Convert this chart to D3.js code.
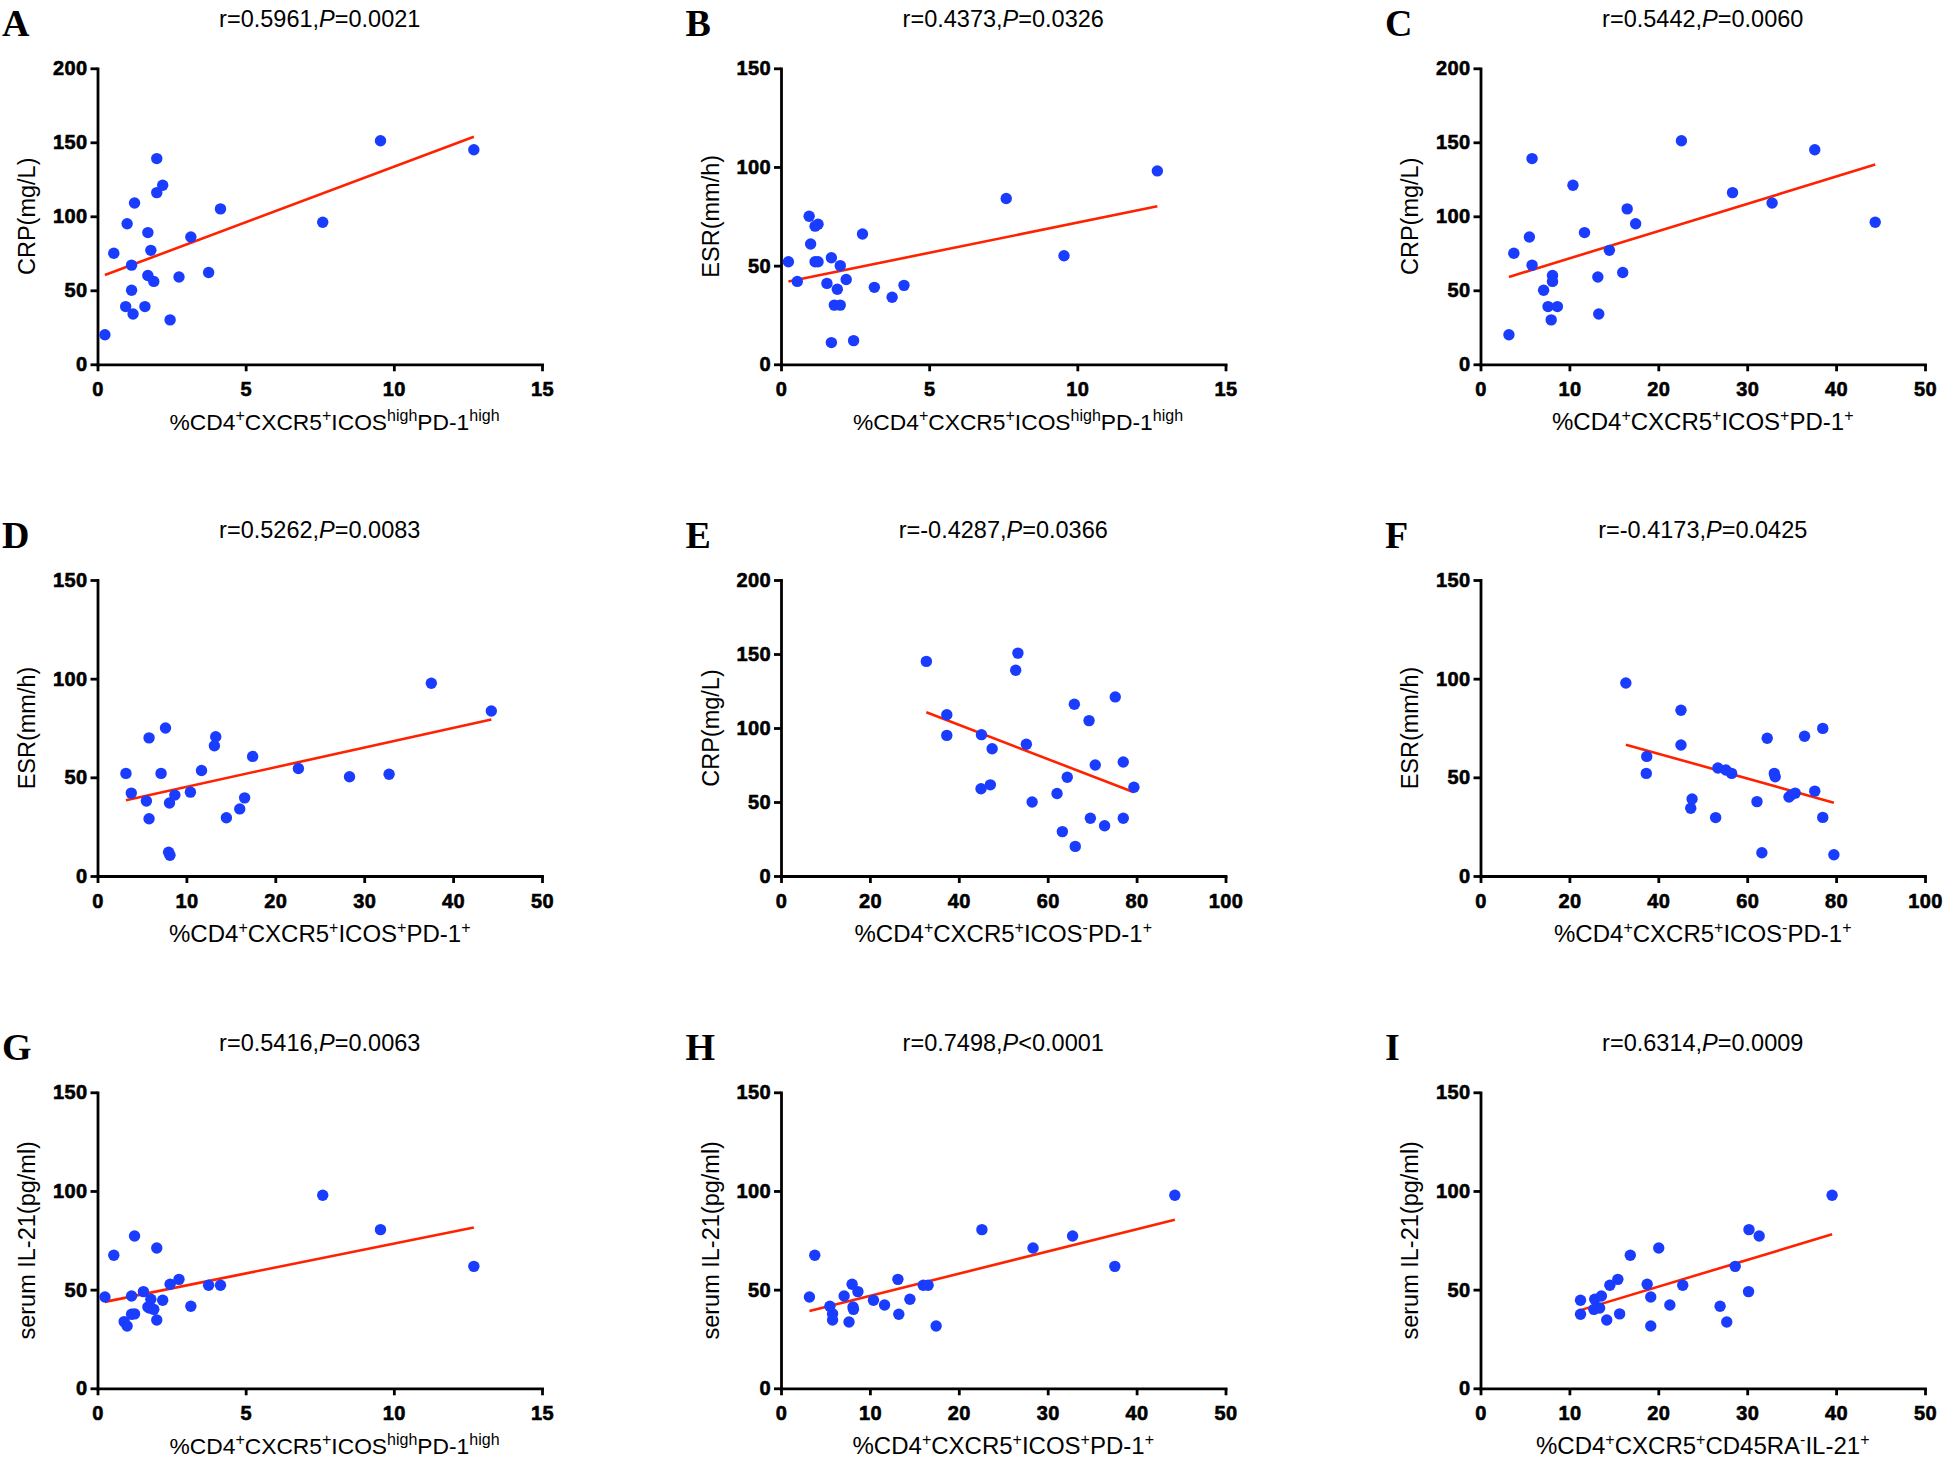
<!DOCTYPE html>
<html><head><meta charset="utf-8">
<script src="https://cdn.jsdelivr.net/npm/d3@7"></script>
<style>body{margin:0;background:#fff} svg{display:block}</style>
</head><body>
<svg id="chart" width="1946" height="1462"></svg>
<script>
// ---------- data ----------
const panelLetters = ["A","B","C","D","E","F","G","H","I"];
const rValues = ["0.5961","0.4373","0.5442","0.5262","-0.4287","-0.4173","0.5416","0.7498","0.6314"];
const pValues = ["=0.0021","=0.0326","=0.0060","=0.0083","=0.0366","=0.0425","=0.0063","<0.0001","=0.0009"];

const xTicks15 = [0,5,10,15];
const xTicks50 = [0,10,20,30,40,50];
const xTicks100 = [0,20,40,60,80,100];
const yTicks200 = [0,50,100,150,200];
const yTicks150 = [0,50,100,150];

const yLabelCRP = "CRP(mg/L)";
const yLabelESR = "ESR(mm/h)";
const yLabelIL21 = "serum IL-21(pg/ml)";

// x label segments: [text, superscript?]
const xLabelHigh = [["%CD4",0],["+",1],["CXCR5",0],["+",1],["ICOS",0],["high",1],["PD-1",0],["high",1]];
const xLabelPos = [["%CD4",0],["+",1],["CXCR5",0],["+",1],["ICOS",0],["+",1],["PD-1",0],["+",1]];
const xLabelNeg = [["%CD4",0],["+",1],["CXCR5",0],["+",1],["ICOS",0],["-",1],["PD-1",0],["+",1]];
const xLabelIL21 = [["%CD4",0],["+",1],["CXCR5",0],["+",1],["CD45RA",0],["-",1],["IL-21",0],["+",1]];

const xA = [0.25,0.55,1.0,0.95,1.15,1.15,1.2,1.25,1.6,1.7,1.7,1.8,1.9,2.0,2.0,2.2,2.45,2.75,3.15,3.75,4.15,7.6,9.55,12.7];
const yA = [20,75,95,39,67,50,34,109,39,89,60,77,56,116,139,121,30,59,86,62,105,96,151,145];
const fitA = [7.50, 58.45];

const xB = [0.25,0.55,0.95,1.0,1.15,1.25,1.15,1.25,1.55,1.7,1.7,1.8,2.0,1.9,2.0,2.2,2.45,2.75,3.15,3.75,4.15,7.6,9.55,12.7];
const yB = [52,42,75,61,70,71,52,52,41,54,11,30,30,38,50,43,12,66,39,34,40,84,55,98];
const fitB = [3.06, 41.2];

const xC = [3.2,3.75,5.5,5.8,5.8,7.1,7.6,7.95,8.1,8.1,8.65,10.4,11.7,13.2,13.3,14.5,16.0,16.5,17.45,22.6,28.35,32.8,37.6,44.4];
const yC = [20,75,86,139,67,50,39,30,60,56,39,121,89,59,34,77,62,105,95,151,116,109,145,96];
const fitC = [1.842, 53.15];

const xD = [3.2,3.8,5.5,5.8,5.8,7.15,7.65,8.1,8.7,8.0,8.15,10.45,11.7,13.15,13.3,14.5,16.0,16.55,17.45,22.6,28.35,32.8,37.55,44.3];
const yD = [52,42,38,70,29,52,75,37,41,12,10.5,42.5,53.5,66,70.6,29.5,34,39.6,60.6,54.5,50.3,51.6,97.7,83.6];
const fitD = [0.995, 35.2];

const xE = [32.7,37.3,37.3,45.1,45.0,47.1,47.5,52.8,53.3,55.2,56.5,62.1,63.3,64.4,66.0,66.2,69.3,69.6,70.7,72.8,75.2,77.0,77.0,79.4];
const yE = [145,109,95,95.5,59,61.6,86,139,150.6,89,50,55.7,30,66.7,116,20,105,39,75,34,121,77,39,60];
const fitE = [-1.158, 148.5];

const xF = [32.7,37.4,37.3,45.1,45.1,47.3,47.6,52.9,53.4,55.2,56.5,62.2,63.3,64.5,66.1,66.3,69.4,69.9,70.8,72.9,75.2,77.0,77.0,79.5];
const yF = [97.8,60.6,52,84,66.4,34.3,39,29.6,54.7,53.7,52,37.7,11.8,69.8,52,50.3,40,41,42,70.8,43,74.8,29.7,10.8];
const fitF = [-0.628, 87.1];

const xG = [0.25,0.55,0.9,1.0,1.15,1.15,1.25,1.25,1.55,1.7,1.75,1.8,1.9,2.0,2.0,2.2,2.45,2.75,3.15,3.75,4.15,7.6,9.55,12.7];
const yG = [46.3,67.4,33.8,31.6,46.8,37.5,37.7,77.2,49,41.2,40.7,45.1,40,71.1,34.6,44.6,52.7,55.2,41.6,52.2,52.2,97.8,80.4,61.8];
const fitG = [3.03, 43.05];

const xH = [3.2,3.8,5.5,5.8,5.8,7.1,7.65,8.0,8.1,8.15,8.65,10.4,11.65,13.15,13.25,14.5,16.0,16.55,17.45,22.6,28.35,32.8,37.55,44.3];
const yH = [46.3,67.4,41.6,37.8,34.6,46.8,33.6,52.7,41.2,40,49,44.6,42.2,55.2,37.5,45.1,52.2,52.2,31.6,80.4,71.1,77.2,61.8,97.8];
const fitH = [1.124, 35.6];

const xI = [11.25,11.25,12.75,12.85,13.4,13.6,14.2,14.55,15.45,15.65,16.85,18.75,19.15,19.15,20.05,21.3,22.75,26.95,27.7,28.65,30.15,30.2,31.35,39.55];
const yI = [44.6,37.5,40,45.1,40.7,46.8,34.6,52.2,55.2,37.7,67.4,52.7,46.3,31.6,71.1,42.2,52.2,41.6,33.6,61.8,49,80.4,77.2,97.8];
const fitI = [1.357, 24.35];

// ---------- panel table built from the arrays ----------
const panels = [
  {x:xA,y:yA,fit:fitA,xt:xTicks15,yt:yTicks200,yl:yLabelCRP,xl:xLabelHigh},
  {x:xB,y:yB,fit:fitB,xt:xTicks15,yt:yTicks150,yl:yLabelESR,xl:xLabelHigh},
  {x:xC,y:yC,fit:fitC,xt:xTicks50,yt:yTicks200,yl:yLabelCRP,xl:xLabelPos},
  {x:xD,y:yD,fit:fitD,xt:xTicks50,yt:yTicks150,yl:yLabelESR,xl:xLabelPos},
  {x:xE,y:yE,fit:fitE,xt:xTicks100,yt:yTicks200,yl:yLabelCRP,xl:xLabelNeg},
  {x:xF,y:yF,fit:fitF,xt:xTicks100,yt:yTicks150,yl:yLabelESR,xl:xLabelNeg},
  {x:xG,y:yG,fit:fitG,xt:xTicks15,yt:yTicks150,yl:yLabelIL21,xl:xLabelHigh},
  {x:xH,y:yH,fit:fitH,xt:xTicks50,yt:yTicks150,yl:yLabelIL21,xl:xLabelPos},
  {x:xI,y:yI,fit:fitI,xt:xTicks50,yt:yTicks150,yl:yLabelIL21,xl:xLabelIL21}
];

// ---------- layout ----------
const colLeft = [97.5, 781, 1480.5];
const rowTop = [68.3, 580, 1092.3];
const W = 444.5, H = 296;
const DOT = "#1a3cff", FIT = "#ff2200";
const sansMain = "'Liberation Sans', Arial, sans-serif";

const svg = d3.select("#chart");

panels.forEach((p, i) => {
  const left = colLeft[i % 3], top = rowTop[Math.floor(i / 3)];
  const g = svg.append("g").attr("transform", `translate(${left},${top})`);
  const xs = d3.scaleLinear().domain([p.xt[0], p.xt[p.xt.length-1]]).range([0, W]);
  const ys = d3.scaleLinear().domain([p.yt[0], p.yt[p.yt.length-1]]).range([H, 0]);

  // axes
  const xAxis = d3.axisBottom(xs).tickValues(p.xt).tickSize(7).tickSizeOuter(0).tickPadding(11).tickFormat(d3.format("d"));
  const yAxis = d3.axisLeft(ys).tickValues(p.yt).tickSize(7).tickSizeOuter(0).tickPadding(3).tickFormat(d3.format("d"));
  [g.append("g").attr("transform", `translate(0,${H})`).call(xAxis),
   g.append("g").call(yAxis)].forEach(ax => {
    ax.select(".domain").attr("stroke", "#000").attr("stroke-width", 2.8).attr("stroke-linecap", "square");
    ax.selectAll(".tick line").attr("stroke", "#000").attr("stroke-width", 2.8);
    ax.selectAll(".tick text").attr("fill", "#000").attr("stroke", "#000").attr("stroke-width", 0.6)
      .style("font-family", sansMain).style("font-weight", "bold").style("font-size", "20px")
      .style("letter-spacing", "0.4px");
  });

  // fit line over data extent
  const ext = d3.extent(p.x);
  const fitPts = ext.map(v => [v, p.fit[0] * v + p.fit[1]]);
  g.append("path").datum(fitPts)
    .attr("d", d3.line().x(d => xs(d[0])).y(d => ys(d[1])))
    .attr("stroke", FIT).attr("stroke-width", 2.6).attr("fill", "none");

  // points
  g.selectAll("circle.pt").data(p.x.map((v, k) => [v, p.y[k]])).join("circle")
    .attr("class", "pt")
    .attr("cx", d => xs(d[0])).attr("cy", d => ys(d[1])).attr("r", 5.7).attr("fill", DOT);

  // title
  const t = g.append("text").attr("x", W / 2).attr("y", -41.6).attr("text-anchor", "middle")
    .style("font-family", sansMain).style("font-size", "23.5px").attr("fill", "#000");
  t.append("tspan").text("r=" + rValues[i] + ",");
  t.append("tspan").style("font-style", "italic").text("P");
  t.append("tspan").text(pValues[i]);

  // panel letter
  svg.append("text").attr("x", left - 95.5).attr("y", top - 32)
    .style("font-family", "'Liberation Serif', 'Times New Roman', serif").style("font-weight", "bold")
    .style("font-size", "38px").attr("fill", "#000").text(panelLetters[i]);

  // y label
  g.append("text").attr("transform", `translate(-70.7,${H / 2}) rotate(-90)`)
    .attr("text-anchor", "middle").attr("dy", "0.35em")
    .style("font-family", sansMain).style("font-size", "23.5px").attr("fill", "#000").text(p.yl);

  // x label
  const isHigh = p.xl === xLabelHigh;
  const xl = g.append("text")
    .attr("x", isHigh ? 72 : W / 2).attr("y", H + 66)
    .attr("text-anchor", isHigh ? "start" : "middle")
    .style("font-family", sansMain).style("font-size", isHigh ? "22.8px" : "24px").attr("fill", "#000");
  let raised = false;
  p.xl.forEach(([txt, sup]) => {
    const ts = xl.append("tspan").text(txt);
    const supSize = "16px";
    if (sup && !raised) { ts.attr("dy", -9).style("font-size", supSize); raised = true; }
    else if (sup) { ts.style("font-size", supSize); }
    else if (!sup && raised) { ts.attr("dy", 9); raised = false; }
  });
});
</script>
</body></html>
